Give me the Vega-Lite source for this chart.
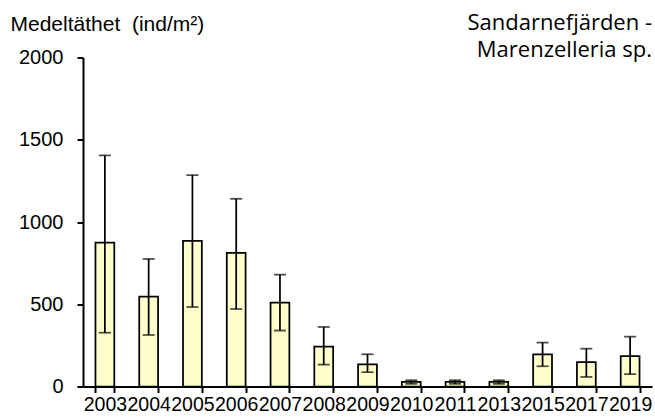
{
  "$schema": "https://vega.github.io/schema/vega-lite/v6.json",
  "autosize": "none",
  "width": 569,
  "height": 329,
  "padding": {"left": 83, "top": 57.5, "right": 3, "bottom": 32.5},
  "background": "white",
  "title": {
    "text": ["Sandarnefjärden -", "Marenzelleria sp."],
    "anchor": "end",
    "font": "Open Sans",
    "fontSize": 22,
    "fontWeight": "normal",
    "color": "black",
    "lineHeight": 27,
    "baseline": "alphabetic",
    "offset": 0,
    "dy": 66
  },
  "data": {
    "values": [
      {"year": "2003", "mean": 874, "lo": 327, "hi": 1405},
      {"year": "2004", "mean": 546, "lo": 313, "hi": 775},
      {"year": "2005", "mean": 886, "lo": 483, "hi": 1285},
      {"year": "2006", "mean": 812, "lo": 471, "hi": 1141},
      {"year": "2007", "mean": 510, "lo": 340, "hi": 680},
      {"year": "2008", "mean": 242, "lo": 133, "hi": 362},
      {"year": "2009", "mean": 135, "lo": 87, "hi": 196},
      {"year": "2010", "mean": 28, "lo": 16, "hi": 38},
      {"year": "2011", "mean": 28, "lo": 16, "hi": 38},
      {"year": "2013", "mean": 28, "lo": 16, "hi": 38},
      {"year": "2015", "mean": 196, "lo": 123, "hi": 267},
      {"year": "2017", "mean": 148, "lo": 58, "hi": 230},
      {"year": "2019", "mean": 184, "lo": 75, "hi": 303}
    ]
  },
  "encoding": {
    "x": {
      "field": "year",
      "type": "nominal",
      "sort": null,
      "scale": {"paddingInner": 0.57, "paddingOuter": 0.285},
      "axis": {
        "title": null,
        "labelAngle": 0,
        "tickBand": "extent",
        "labelOverlap": false,
        "labelFont": "Liberation Sans",
        "labelFontSize": 19.5,
        "labelColor": "black",
        "labelPadding": 3,
        "tickColor": "black",
        "tickSize": 6,
        "tickWidth": 2,
        "domainColor": "black",
        "domainWidth": 2
      }
    }
  },
  "layer": [
    {
      "mark": {"type": "bar", "fill": "#FFFFCC", "stroke": "black", "strokeWidth": 1.75},
      "encoding": {
        "y": {
          "field": "mean",
          "type": "quantitative",
          "scale": {"domain": [0, 2000], "nice": false},
          "axis": {
            "values": [0, 500, 1000, 1500, 2000],
            "format": "d",
            "grid": false,
            "title": "Medeltäthet \u00a0(ind/m²)",
            "titleAngle": 0,
            "titleAlign": "left",
            "titleBaseline": "alphabetic",
            "titleX": -73,
            "titleY": -27.5,
            "titleFont": "Liberation Sans",
            "titleFontSize": 21,
            "titleFontWeight": "normal",
            "titleColor": "black",
            "labelFont": "Liberation Sans",
            "labelFontSize": 20,
            "labelColor": "black",
            "labelPadding": 14,
            "tickColor": "black",
            "tickSize": 6,
            "tickWidth": 2,
            "domainColor": "black",
            "domainWidth": 2
          }
        }
      }
    },
    {
      "mark": {"type": "rule", "color": "black", "strokeWidth": 1.75},
      "encoding": {
        "y": {"field": "lo", "type": "quantitative"},
        "y2": {"field": "hi"}
      }
    },
    {
      "mark": {"type": "tick", "color": "black", "size": 12, "thickness": 1.75},
      "encoding": {"y": {"field": "lo", "type": "quantitative"}}
    },
    {
      "mark": {"type": "tick", "color": "black", "size": 12, "thickness": 1.75},
      "encoding": {"y": {"field": "hi", "type": "quantitative"}}
    }
  ],
  "config": {"view": {"stroke": null}}
}
